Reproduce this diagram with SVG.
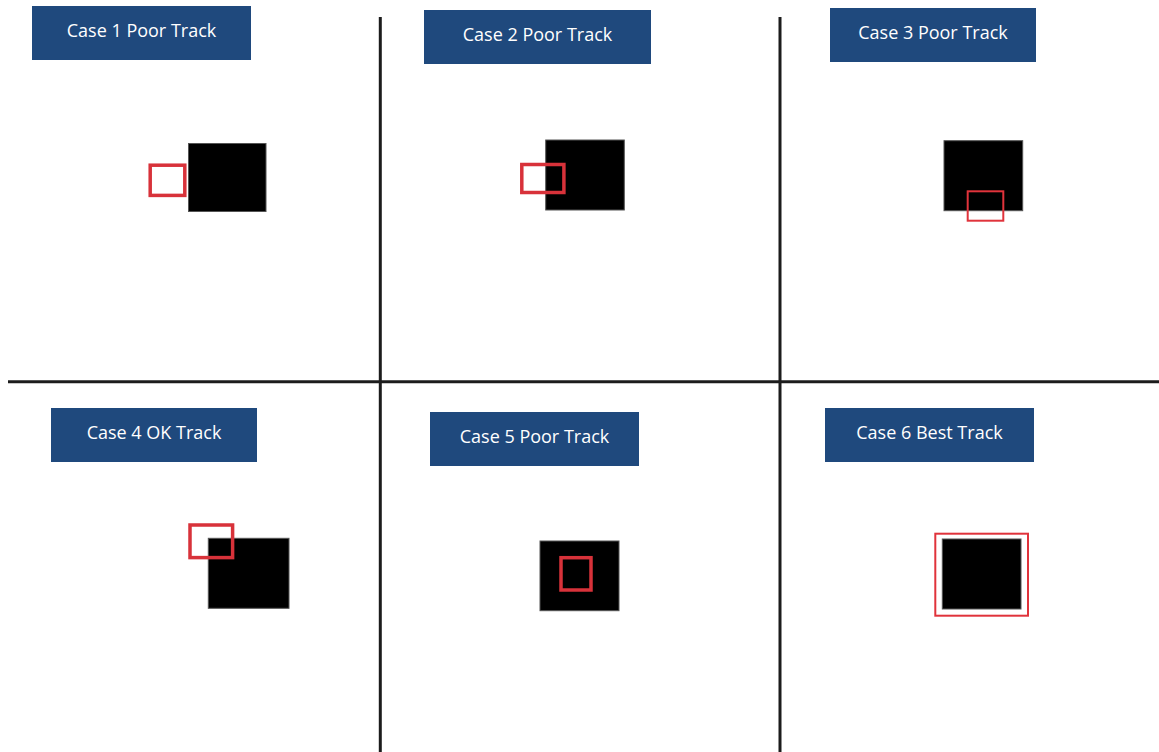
<svg xmlns="http://www.w3.org/2000/svg" width="1159" height="752" viewBox="0 0 1159 752">
<style>
.lbl{fill:#1f497d}
.lt{font-family:"Open Sans","Liberation Sans",sans-serif;font-size:18px;fill:#ffffff;text-anchor:middle}
.obj{fill:#000000;stroke:#555;stroke-width:1}
.trk{fill:none;stroke:#d8323a;stroke-width:3.5}
.trk2{fill:none;stroke:#e0333b;stroke-width:2}
.grid{stroke:#1c1c1c;stroke-width:3;fill:none}
</style>
<rect width="1159" height="752" fill="#ffffff"/>
<g id="connectors">
<line class="grid" x1="380.3" y1="17" x2="380.3" y2="752"/>
<line class="grid" x1="780" y1="17" x2="780" y2="752"/>
<line class="grid" x1="8" y1="381.7" x2="1159" y2="381.7"/>
</g>
<g id="case1">
<rect class="lbl" x="32" y="6" width="219" height="54"/>
<text class="lt" x="141.5" y="37">Case 1 Poor Track</text>
<rect class="obj" x="188.5" y="143.5" width="77.5" height="68"/>
<rect class="trk" x="150.2" y="165.2" width="34.6" height="30.2"/>
</g>
<g id="case2">
<rect class="lbl" x="424" y="10" width="227" height="54"/>
<text class="lt" x="537.5" y="40.5">Case 2 Poor Track</text>
<rect class="obj" x="545.7" y="140" width="78.6" height="70"/>
<rect class="trk" x="521.8" y="164.5" width="42.1" height="28"/>
</g>
<g id="case3">
<rect class="lbl" x="830" y="8" width="206" height="54"/>
<text class="lt" x="933" y="39.3">Case 3 Poor Track</text>
<rect class="obj" x="944" y="140.7" width="78.7" height="70"/>
<rect class="trk2" x="967.7" y="191.3" width="35.6" height="29.4"/>
</g>
<g id="case4">
<rect class="lbl" x="51" y="408" width="206" height="54"/>
<text class="lt" x="154" y="439.3">Case 4 OK Track</text>
<rect class="obj" x="208.3" y="538.3" width="80.7" height="70"/>
<rect class="trk" x="190" y="525" width="42.6" height="32.6"/>
</g>
<g id="case5">
<rect class="lbl" x="430" y="412" width="209" height="54"/>
<text class="lt" x="534.5" y="443.3">Case 5 Poor Track</text>
<rect class="obj" x="540" y="541" width="79" height="69.7"/>
<rect class="trk" x="561" y="557.7" width="30" height="32.3"/>
</g>
<g id="case6">
<rect class="lbl" x="825" y="408" width="209" height="54"/>
<text class="lt" x="929.5" y="439.3">Case 6 Best Track</text>
<rect class="obj" x="942.3" y="539" width="78.7" height="70"/>
<rect class="trk2" x="935.3" y="533.7" width="92.7" height="82"/>
</g>
</svg>
